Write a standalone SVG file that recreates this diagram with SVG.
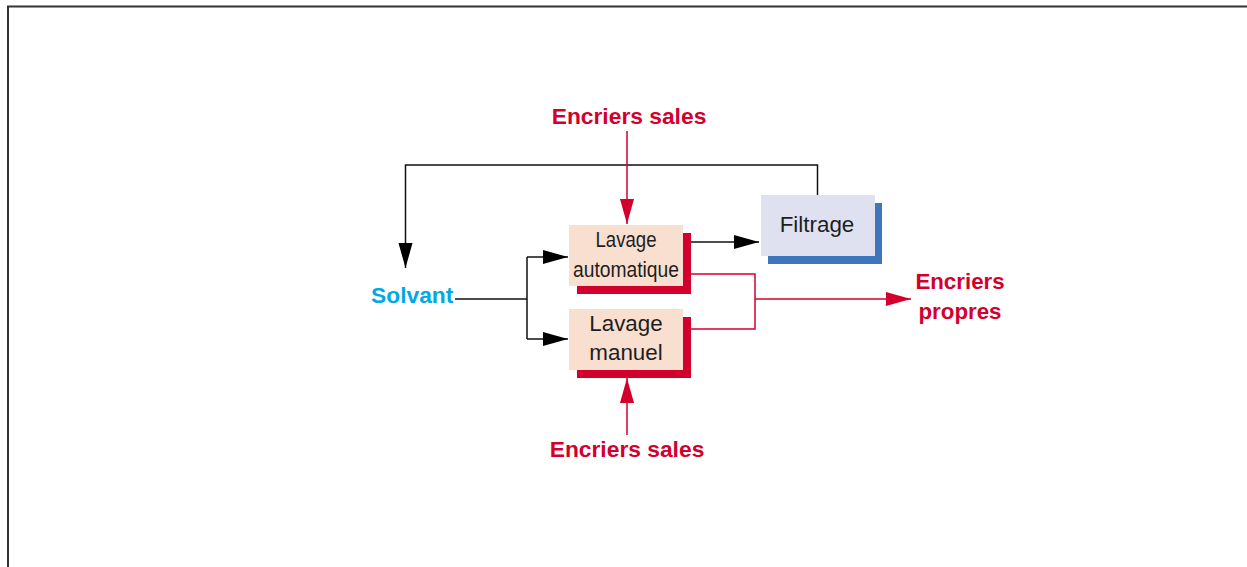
<svg xmlns="http://www.w3.org/2000/svg" width="1247" height="567" viewBox="0 0 1247 567">
<style>
text{font-family:"Liberation Sans",Arial,sans-serif}
.red{fill:#d3002e;font-weight:bold;font-size:22.8px}
.redp{fill:#d3002e;font-weight:bold;font-size:22.3px}
.blue{fill:#00a8e8;font-weight:bold;font-size:22.8px}
.lbl{fill:#1e1e1e;font-size:22.4px}
.blk{fill:none;stroke:#111;stroke-width:1.5}
.rl{fill:none;stroke:#d3002e;stroke-width:1.5}
</style>
<defs>
<marker id="ab" markerUnits="userSpaceOnUse" markerWidth="26" markerHeight="16" refX="25" refY="7" orient="auto"><path d="M0,0 L25,7 L0,14 Z" fill="#000"/></marker>
<marker id="ar" markerUnits="userSpaceOnUse" markerWidth="26" markerHeight="16" refX="25" refY="7" orient="auto"><path d="M0,0 L25,7 L0,14 Z" fill="#d3002e"/></marker>
</defs>
<rect width="1247" height="567" fill="#fff"/>
<path d="M1247,6.5 H8 V567" fill="none" stroke="#333" stroke-width="2"/>
<g id="connectors">
<path class="blk" d="M817.5,195 V165 H405.5 V268" marker-end="url(#ab)"/>
<path class="blk" d="M455,299 H527 M527,257 V339"/>
<path class="blk" d="M527,257 H568" marker-end="url(#ab)"/>
<path class="blk" d="M527,339 H568" marker-end="url(#ab)"/>
<path class="blk" d="M691,242 H759" marker-end="url(#ab)"/>
<path class="rl" d="M691,274 H755 V329 H691"/>
<path class="rl" d="M755,299 H911" marker-end="url(#ar)"/>
<path class="rl" d="M627,131 V224" marker-end="url(#ar)"/>
<path class="rl" d="M627,435 V378" marker-end="url(#ar)"/>
</g>
<g id="lavage-auto">
<rect x="577" y="233" width="114" height="61" fill="#d3002e"/>
<rect x="569" y="225" width="114" height="61" fill="#f9dfcf"/>
<text class="lbl" x="626" y="247" text-anchor="middle" font-size="20" textLength="61" lengthAdjust="spacingAndGlyphs">Lavage</text>
<text class="lbl" x="626" y="277" text-anchor="middle" font-size="20" textLength="106" lengthAdjust="spacingAndGlyphs">automatique</text>
</g>
<g id="lavage-manuel">
<rect x="577" y="317" width="114" height="61" fill="#d3002e"/>
<rect x="569" y="309" width="114" height="61" fill="#f9dfcf"/>
<text class="lbl" x="626" y="331" text-anchor="middle">Lavage</text>
<text class="lbl" x="626" y="360" text-anchor="middle">manuel</text>
</g>
<g id="filtrage">
<rect x="768" y="203" width="114" height="61" fill="#3d76ba"/>
<rect x="761" y="195" width="114" height="61" fill="#dfe1f0"/>
<text class="lbl" x="817" y="232" text-anchor="middle" font-size="22">Filtrage</text>
</g>
<g id="solvant">
<text class="blue" x="371" y="303">Solvant</text>
</g>
<g id="encriers-sales-top">
<text class="red" x="629" y="124" text-anchor="middle">Encriers sales</text>
</g>
<g id="encriers-sales-bottom">
<text class="red" x="627" y="457" text-anchor="middle">Encriers sales</text>
</g>
<g id="encriers-propres">
<text class="redp" x="960" y="289" text-anchor="middle">Encriers</text>
<text class="redp" x="960" y="319" text-anchor="middle">propres</text>
</g>
</svg>
